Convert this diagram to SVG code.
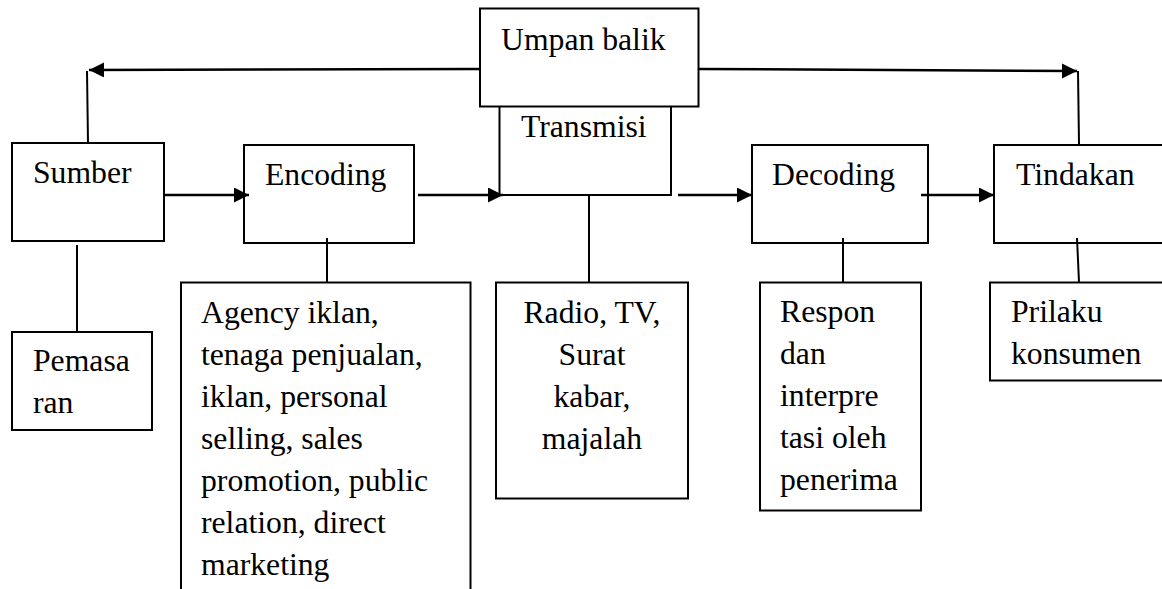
<svg xmlns="http://www.w3.org/2000/svg" width="1162" height="589" viewBox="0 0 1162 589">
<style>
  .box { fill: #ffffff; stroke: #000000; stroke-width: 2; }
  .t { font-family: "Liberation Serif", "Times New Roman", serif; font-size: 31.7px; fill: #000000; }
  .c { fill: none; stroke: #000000; stroke-width: 2; }
  .a { fill: none; stroke: #000000; stroke-width: 2.5; marker-end: url(#ah); }
</style>
<defs>
  <marker id="ah" markerUnits="userSpaceOnUse" markerWidth="16" markerHeight="16" refX="15" refY="7.5" orient="auto">
    <path d="M0,0 L15,7.5 L0,15 Z" fill="#000000"/>
  </marker>
</defs>
<rect width="1162" height="589" fill="#ffffff"/>

<g id="transmisi">
  <rect class="box" x="499.5" y="100" width="171.5" height="95"/>
  <text class="t" x="521" y="137">Transmisi</text>
</g>
<g id="umpan-balik">
  <rect class="box" x="480" y="8.5" width="218.5" height="98"/>
  <text class="t" x="501" y="50">Umpan balik</text>
</g>
<g id="sumber">
  <rect class="box" x="12" y="143" width="152" height="98"/>
  <text class="t" x="33" y="183">Sumber</text>
</g>
<g id="encoding">
  <rect class="box" x="244" y="145" width="170" height="98"/>
  <text class="t" x="265" y="185">Encoding</text>
</g>
<g id="decoding">
  <rect class="box" x="752" y="145" width="176" height="98"/>
  <text class="t" x="772" y="185">Decoding</text>
</g>
<g id="tindakan">
  <rect class="box" x="994" y="145" width="180" height="98"/>
  <text class="t" x="1016" y="185">Tindakan</text>
</g>
<g id="pemasaran">
  <rect class="box" x="12" y="332" width="140" height="98"/>
  <text class="t" x="33" y="371">Pemasa</text>
  <text class="t" x="33" y="413">ran</text>
</g>
<g id="agency">
  <rect class="box" x="181" y="282.5" width="289.5" height="320"/>
  <text class="t" x="201" y="323">Agency iklan,</text>
  <text class="t" x="201" y="365">tenaga penjualan,</text>
  <text class="t" x="201" y="407">iklan, personal</text>
  <text class="t" x="201" y="449">selling, sales</text>
  <text class="t" x="201" y="491">promotion, public</text>
  <text class="t" x="201" y="533">relation, direct</text>
  <text class="t" x="201" y="575">marketing</text>
</g>
<g id="media">
  <rect class="box" x="496" y="282.5" width="192" height="216"/>
  <text class="t" x="592" y="323" text-anchor="middle">Radio, TV,</text>
  <text class="t" x="592" y="365" text-anchor="middle">Surat</text>
  <text class="t" x="592" y="407" text-anchor="middle">kabar,</text>
  <text class="t" x="592" y="449" text-anchor="middle">majalah</text>
</g>
<g id="respon">
  <rect class="box" x="760" y="282.5" width="161" height="228"/>
  <text class="t" x="780" y="322">Respon</text>
  <text class="t" x="780" y="364">dan</text>
  <text class="t" x="780" y="406">interpre</text>
  <text class="t" x="780" y="448">tasi oleh</text>
  <text class="t" x="780" y="490">penerima</text>
</g>
<g id="prilaku">
  <rect class="box" x="990" y="282.5" width="180" height="98"/>
  <text class="t" x="1011" y="322">Prilaku</text>
  <text class="t" x="1011" y="364">konsumen</text>
</g>

<g id="connectors">
  <path class="a" d="M480,69 L89,70"/>
  <path class="a" d="M698,69 L1077,71"/>
  <path class="c" d="M88,143 L87,71"/>
  <path class="c" d="M1079,144 L1078,71"/>
  <path class="a" d="M164,195 L249,195"/>
  <path class="a" d="M418,195 L503,195"/>
  <path class="a" d="M678,195 L752,195"/>
  <path class="a" d="M921,195 L994,195"/>
  <path class="c" d="M77,245 L77,332"/>
  <path class="c" d="M327,238 L327,282"/>
  <path class="c" d="M589,195 L589,282"/>
  <path class="c" d="M843,238 L843,282"/>
  <path class="c" d="M1077,238 L1079,282"/>
</g>
</svg>
